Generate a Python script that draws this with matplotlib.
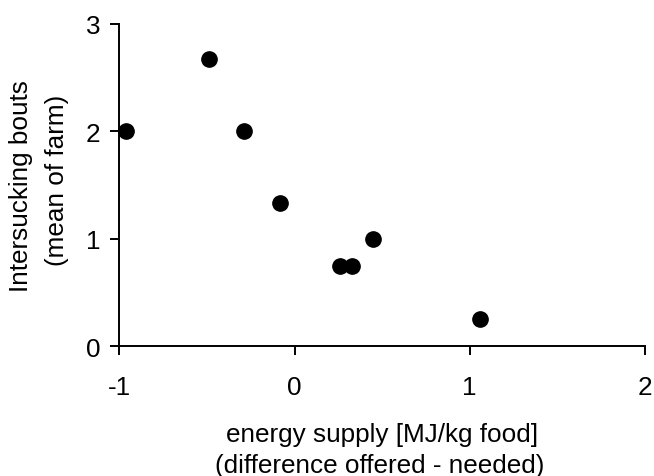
import matplotlib
matplotlib.use('Agg')
from matplotlib import pyplot as plt

# energy supply difference (MJ/kg food) vs intersucking bouts per farm
energy = [-0.96, -0.49, -0.29, -0.08, 0.26, 0.33, 0.45, 1.06]
bouts = [2.0, 2.67, 2.0, 1.33, 0.75, 0.75, 1.0, 0.25]

x_ticks = [-1, 0, 1, 2]
y_ticks = [0, 1, 2, 3]

plt.rcParams['font.family'] = ['Liberation Sans', 'DejaVu Sans']
plt.rcParams['font.size'] = 18.8

fig = plt.figure(figsize=(6.54, 4.77), dpi=100)
ax = fig.add_axes([0.1824, 0.2725, 0.8038, 0.6751])

ax.plot(energy, bouts, 'o', color='black', markersize=11, clip_on=False)

ax.set_xlim(-1, 2)
ax.set_ylim(0, 3)
ax.set_xticks(x_ticks)
ax.set_xticklabels([str(t) for t in x_ticks])
ax.set_yticks(y_ticks)

for side in ['top', 'right']:
    ax.spines[side].set_visible(False)
for side in ['left', 'bottom']:
    ax.spines[side].set_linewidth(1.4)

ax.tick_params(axis='x', direction='out', length=6.5, width=1.4, pad=14.5)
ax.tick_params(axis='y', direction='out', length=6.5, width=1.4, pad=7)

# two-line axis titles, placed line by line
fig.text(21/654, 1-186/477, 'Intersucking bouts', rotation=90, ha='center', va='center')
fig.text(57/654, 1-180/477, '(mean of farm)', rotation=90, ha='center', va='center')
fig.text(382/654, 1-442/477, 'energy supply [MJ/kg food]', ha='center', va='baseline')
fig.text(380/654, 1-473/477, '(difference offered - needed)', ha='center', va='baseline')

fig.savefig('out.png', dpi=100)
